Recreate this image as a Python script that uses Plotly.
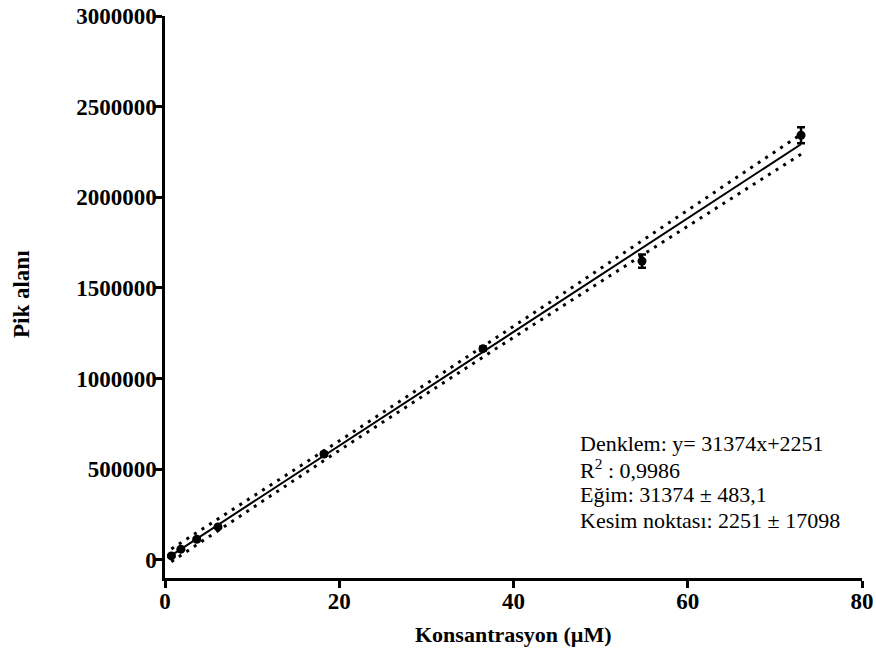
import numpy as np
import plotly.graph_objects as go

# Data
conc = [0.73, 1.825, 3.65, 6.08, 18.25, 36.5, 54.75, 73.0]
area = [22000, 59000, 114000, 182000, 584000, 1165000, 1648000, 2342000]
area_err = [3000, 3000, 4000, 5000, 8000, 10000, 36000, 44000]

# Regression statistics shown on the chart
slope = 31374
intercept = 2251
se_slope = 483.1
se_intercept = 17098
t_crit = 2.07

x_ticks = [0, 20, 40, 60, 80]
y_ticks = [0, 500000, 1000000, 1500000, 2000000, 2500000, 3000000]

stats_lines = [
    "Denklem: y= 31374x+2251",
    "R<sup>2</sup> : 0,9986",
    "Eğim: 31374 ± 483,1",
    "Kesim noktası: 2251 ± 17098",
]

# fit line and 95% confidence band
xs = np.linspace(min(conc), max(conc), 200)
xbar = float(np.mean(conc))
fit = slope * xs + intercept
var = se_intercept**2 + se_slope**2 * (xs**2 - 2 * xs * xbar)
half = t_crit * np.sqrt(var)

FONT = "Liberation Serif"

fig = go.Figure()
fig.add_trace(go.Scatter(x=xs, y=fit + half, mode="lines",
                         line=dict(color="black", width=3, dash="3px,6px"),
                         hoverinfo="skip", showlegend=False))
fig.add_trace(go.Scatter(x=xs, y=fit - half, mode="lines",
                         line=dict(color="black", width=3, dash="3px,6px"),
                         hoverinfo="skip", showlegend=False))
fig.add_trace(go.Scatter(x=xs, y=fit, mode="lines",
                         line=dict(color="black", width=2),
                         showlegend=False))
fig.add_trace(go.Scatter(x=conc, y=area, mode="markers",
                         marker=dict(color="black", size=9),
                         error_y=dict(type="data", array=area_err, color="black",
                                      thickness=2.5, width=4),
                         showlegend=False))

annotations = [
    dict(text="Konsantrasyon (µM)", xref="paper", yref="paper", x=0.5, y=0,
         yshift=-56, showarrow=False, xanchor="center", yanchor="middle",
         font=dict(family=FONT, size=22, color="black", weight="bold")),
    dict(text="Pik alanı", xref="paper", yref="paper", x=0, y=0.5,
         xshift=-144, yshift=3, showarrow=False, textangle=-90,
         xanchor="center", yanchor="middle",
         font=dict(family=FONT, size=23, color="black", weight="bold")),
]
# stats block: one annotation per line, placed in paper coords
plot_top, plot_h = 16, 562
for i, line in enumerate(stats_lines):
    center_px = 443 + i * 25.7
    annotations.append(dict(
        text=line, xref="x", yref="paper", x=47.35,
        y=1 - (center_px - plot_top) / plot_h,
        showarrow=False, xanchor="left", yanchor="middle", align="left",
        font=dict(family=FONT, size=22, color="black")))

fig.update_layout(
    width=876, height=651,
    margin=dict(l=165, r=14, t=16, b=73),
    plot_bgcolor="white", paper_bgcolor="white",
    font=dict(family=FONT, color="black"),
    xaxis=dict(range=[0, 80], tickvals=x_ticks, ticktext=[str(v) for v in x_ticks],
               automargin=False, ticklabelstandoff=-6,
               showgrid=False, zeroline=False, showline=True, linecolor="black",
               linewidth=2.5, ticks="outside", ticklen=7, tickwidth=2.5,
               tickcolor="black",
               tickfont=dict(family=FONT, size=23, color="black", weight="bold")),
    yaxis=dict(range=[-100000, 3000000], tickvals=y_ticks,
               ticktext=[str(v) for v in y_ticks], automargin=False,
               ticklabelstandoff=-6,
               showgrid=False, zeroline=False, showline=True, linecolor="black",
               linewidth=2.5, ticks="outside", ticklen=7, tickwidth=2.5,
               tickcolor="black",
               tickfont=dict(family=FONT, size=23, color="black", weight="bold")),
    annotations=annotations,
)

fig.write_html("out.html")
